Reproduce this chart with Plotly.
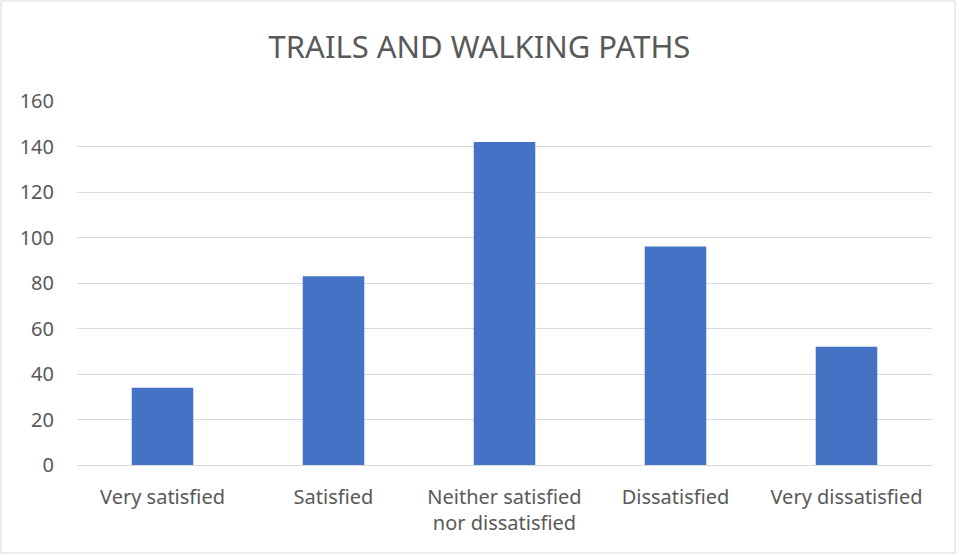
import plotly.graph_objects as go

categories = ["Very satisfied", "Satisfied", "Neither satisfied<br>nor dissatisfied",
              "Dissatisfied", "Very dissatisfied"]
counts = [34, 83, 142, 96, 52]
y_ticks = [0, 20, 40, 60, 80, 100, 120, 140, 160]

W, H = 959, 556
ml, mr, mt, mb = 77, 27, 101, 91
pw, ph = W - ml - mr, H - mt - mb

fig = go.Figure(go.Bar(x=categories, y=counts, marker_color="#4472c4",
                       marker_line_width=0))

fig.update_layout(
    width=W, height=H,
    margin=dict(l=ml, r=mr, t=mt, b=mb),
    paper_bgcolor="white", plot_bgcolor="white",
    bargap=0.64,
    font=dict(family="Noto Sans, Open Sans, sans-serif", color="#595959", size=20),
    title=dict(text="TRAILS AND WALKING PATHS", x=0.5, xanchor="center",
               y=1 - 47 / H, yanchor="middle",
               font=dict(size=31, color="#595959")),
    showlegend=False,
    shapes=[dict(type="rect", xref="paper", yref="paper",
                 x0=(1 - ml) / pw, x1=(955 - ml) / pw,
                 y0=(H - mb - 553) / ph, y1=(H - mb - 1) / ph,
                 line=dict(color="#d9d9d9", width=1), fillcolor="rgba(0,0,0,0)",
                 layer="below")],
)
fig.update_xaxes(showgrid=False, showline=True, linecolor="#d9d9d9", ticks="",
                 ticklabelstandoff=14, tickfont=dict(size=20))
fig.update_yaxes(range=[0, 160], tickvals=y_ticks, gridcolor="#d9d9d9",
                 zeroline=False, showline=False, ticks="", ticklabelstandoff=22,
                 tickfont=dict(size=20))

fig.write_html("out.html", config={"displayModeBar": False},
               post_script="document.body.style.margin='0';")
